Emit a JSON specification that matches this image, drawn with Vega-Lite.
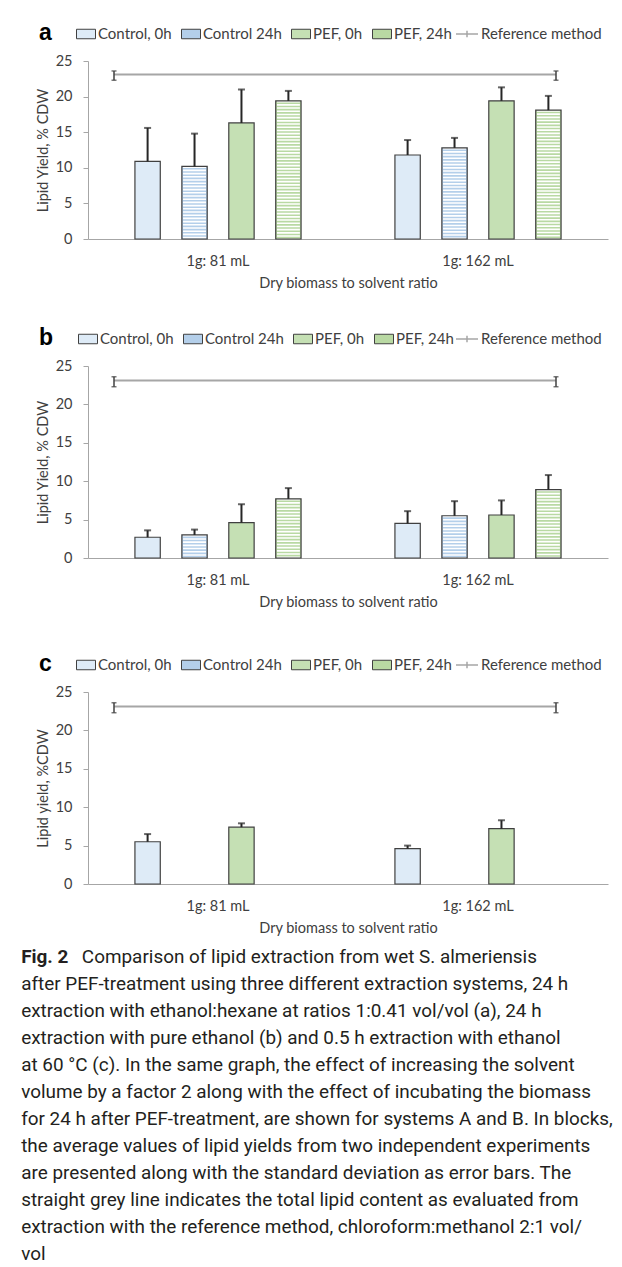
{
  "$schema": "https://vega.github.io/schema/vega-lite/v6.json",
  "padding": {"top": 22, "left": 21, "right": 4, "bottom": 2},
  "background": "white",
  "title": {
    "text": "Fig. 2",
    "subtitle": [
      "\u2800\u2800\u2800\u2800 Comparison of lipid extraction from wet S. almeriensis",
      "after PEF-treatment using three different extraction systems, 24 h",
      "extraction with ethanol:hexane at ratios 1:0.41 vol/vol (a), 24 h",
      "extraction with pure ethanol (b) and 0.5 h extraction with ethanol",
      "at 60 °C (c). In the same graph, the effect of increasing the solvent",
      "volume by a factor 2 along with the effect of incubating the biomass",
      "for 24 h after PEF-treatment, are shown for systems A and B. In blocks,",
      "the average values of lipid yields from two independent experiments",
      "are presented along with the standard deviation as error bars. The",
      "straight grey line indicates the total lipid content as evaluated from",
      "extraction with the reference method, chloroform:methanol 2:1 vol/",
      "vol"
    ],
    "orient": "bottom",
    "anchor": "start",
    "frame": "bounds",
    "font": "Roboto",
    "fontSize": 18.9,
    "fontWeight": "bold",
    "color": "#231f20",
    "subtitleFont": "Roboto",
    "subtitleFontSize": 18.9,
    "subtitleColor": "#231f20",
    "subtitleLineHeight": 27,
    "subtitlePadding": -18.9,
    "offset": 13,
    "dx": -14
  },
  "datasets": {
    "bars": [
      {"panel": "a", "ratio": "1g: 81 mL", "series": "Control, 0h", "yield": 10.9, "upper": 15.6},
      {"panel": "a", "ratio": "1g: 81 mL", "series": "Control 24h", "yield": 10.2, "upper": 14.8},
      {"panel": "a", "ratio": "1g: 81 mL", "series": "PEF, 0h", "yield": 16.3, "upper": 21.0},
      {"panel": "a", "ratio": "1g: 81 mL", "series": "PEF, 24h", "yield": 19.4, "upper": 20.8},
      {"panel": "a", "ratio": "1g: 162 mL", "series": "Control, 0h", "yield": 11.8, "upper": 13.9},
      {"panel": "a", "ratio": "1g: 162 mL", "series": "Control 24h", "yield": 12.8, "upper": 14.2},
      {"panel": "a", "ratio": "1g: 162 mL", "series": "PEF, 0h", "yield": 19.4, "upper": 21.3},
      {"panel": "a", "ratio": "1g: 162 mL", "series": "PEF, 24h", "yield": 18.1, "upper": 20.1},
      {"panel": "b", "ratio": "1g: 81 mL", "series": "Control, 0h", "yield": 2.7, "upper": 3.6},
      {"panel": "b", "ratio": "1g: 81 mL", "series": "Control 24h", "yield": 3.0, "upper": 3.7},
      {"panel": "b", "ratio": "1g: 81 mL", "series": "PEF, 0h", "yield": 4.6, "upper": 7.0},
      {"panel": "b", "ratio": "1g: 81 mL", "series": "PEF, 24h", "yield": 7.7, "upper": 9.1},
      {"panel": "b", "ratio": "1g: 162 mL", "series": "Control, 0h", "yield": 4.5, "upper": 6.1},
      {"panel": "b", "ratio": "1g: 162 mL", "series": "Control 24h", "yield": 5.5, "upper": 7.4},
      {"panel": "b", "ratio": "1g: 162 mL", "series": "PEF, 0h", "yield": 5.6, "upper": 7.5},
      {"panel": "b", "ratio": "1g: 162 mL", "series": "PEF, 24h", "yield": 8.9, "upper": 10.8},
      {"panel": "c", "ratio": "1g: 81 mL", "series": "Control, 0h", "yield": 5.5, "upper": 6.5},
      {"panel": "c", "ratio": "1g: 81 mL", "series": "PEF, 0h", "yield": 7.4, "upper": 7.9},
      {"panel": "c", "ratio": "1g: 162 mL", "series": "Control, 0h", "yield": 4.6, "upper": 5.0},
      {"panel": "c", "ratio": "1g: 162 mL", "series": "PEF, 0h", "yield": 7.2, "upper": 8.3}
    ],
    "ref": [
      {"panel": "a", "pos": 0.1, "series": "Reference method", "ref": 23.1, "lo": 22.3, "hi": 23.6},
      {"panel": "a", "pos": 1.8, "series": "Reference method", "ref": 23.1, "lo": 22.3, "hi": 23.6},
      {"panel": "b", "pos": 0.1, "series": "Reference method", "ref": 23.1, "lo": 22.3, "hi": 23.6},
      {"panel": "b", "pos": 1.8, "series": "Reference method", "ref": 23.1, "lo": 22.3, "hi": 23.6},
      {"panel": "c", "pos": 0.1, "series": "Reference method", "ref": 23.1, "lo": 22.3, "hi": 23.6},
      {"panel": "c", "pos": 1.8, "series": "Reference method", "ref": 23.1, "lo": 22.3, "hi": 23.6}
    ]
  },
  "spacing": 37,
  "vconcat": [
    {
      "width": 520,
      "height": 178,
      "resolve": {"scale": {"x": "independent"}},
      "layer": [
        {
          "data": {"name": "bars"},
          "transform": [{"filter": "datum.panel === 'a'"}],
          "encoding": {
            "x": {"field": "ratio", "type": "nominal", "sort": ["1g: 81 mL", "1g: 162 mL"], "scale": {"paddingInner": 0, "paddingOuter": 0},
                  "axis": {"title": "Dry biomass to solvent ratio", "labelAngle": 0, "ticks": false, "labelPadding": 15, "titlePadding": 9}},
            "xOffset": {"field": "series", "type": "nominal", "scale": {"domain": ["Control, 0h", "Control 24h", "PEF, 0h", "PEF, 24h"], "paddingInner": 0.46, "paddingOuter": 1.16}},
            "y": {"field": "yield", "type": "quantitative", "scale": {"domain": [0, 25], "nice": false}, "title": "Lipid Yield, % CDW",
                  "axis": {"values": [0, 5, 10, 15, 20, 25], "tickSize": 5, "labelPadding": 11, "titlePadding": 5, "domain": true, "ticks": true, "labelOverlap": false}}
          },
          "layer": [
            {"mark": {"type": "bar", "strokeWidth": 0},
             "encoding": {"fill": {"field": "series", "type": "nominal",
               "scale": {"domain": ["Control, 0h", "Control 24h", "PEF, 0h", "PEF, 24h"], "range": ["#deebf7", "#b4cfea", "#c5e0b4", "#b9d9a3"]},
               "legend": {"orient": "none", "legendX": -49, "legendY": -37, "direction": "horizontal", "title": "a", "titleOrient": "left",
                          "titleFont": "Liberation Sans", "titleFontSize": 23, "titleFontWeight": "bold", "titleColor": "#000000", "titlePadding": 24,
                          "symbolType": "M-1,-0.5H1V0.5H-1Z", "symbolSize": 361, "symbolStrokeColor": "#404040", "symbolStrokeWidth": 1,
                          "labelOffset": 2, "columnPadding": 7}}}},
            {"transform": [{"filter": "datum.series === 'Control 24h' || datum.series === 'PEF, 24h'"}],
             "mark": {"type": "rule", "color": "white", "strokeWidth": 23, "strokeDash": [1.6, 1.6], "strokeCap": "butt"},
             "encoding": {"y2": {"datum": 0}}},
            {"mark": {"type": "bar", "fill": null, "fillOpacity": 0, "stroke": "#404040", "strokeWidth": 1.2}},
            {"mark": {"type": "rule", "color": "#262626", "strokeWidth": 2}, "encoding": {"y2": {"field": "upper"}}},
            {"mark": {"type": "tick", "orient": "horizontal", "color": "#262626", "thickness": 2, "size": 7},
             "encoding": {"y": {"field": "upper", "type": "quantitative", "scale": {"domain": [0, 25], "nice": false}, "title": "Lipid Yield, % CDW",
               "axis": {"values": [0, 5, 10, 15, 20, 25], "tickSize": 5, "labelPadding": 11, "titlePadding": 5, "domain": true, "ticks": true, "labelOverlap": false}}}}
          ]
        },
        {
          "data": {"name": "ref"},
          "transform": [{"filter": "datum.panel === 'a'"}],
          "encoding": {
            "x": {"field": "pos", "type": "quantitative", "scale": {"domain": [0, 2], "nice": false, "zero": false}, "axis": null}
          },
          "layer": [
            {"data": {"values": [{}]}, "mark": {"type": "rule", "color": "#d0d0d0", "strokeWidth": 1},
             "encoding": {"x": {"datum": 1, "type": "quantitative", "axis": null}}},
            {"mark": {"type": "line", "strokeWidth": 2},
             "encoding": {"y": {"field": "ref", "type": "quantitative", "scale": {"domain": [0, 25], "nice": false}, "title": "Lipid Yield, % CDW",
               "axis": {"values": [0, 5, 10, 15, 20, 25], "tickSize": 5, "labelPadding": 11, "titlePadding": 5, "domain": true, "ticks": true, "labelOverlap": false}},
               "stroke": {"field": "series", "type": "nominal", "scale": {"range": ["#a6a6a6"]},
                 "legend": {"orient": "none", "legendX": 367, "legendY": -39, "title": null, "symbolType": "M-1,0H1M0,-0.3V0.3", "symbolSize": 484,
                            "symbolStrokeWidth": 1.5, "symbolFillColor": "transparent", "labelOffset": 2}}}},
            {"mark": {"type": "rule", "color": "#404040", "strokeWidth": 1.5},
             "encoding": {"y": {"field": "lo", "type": "quantitative", "scale": {"domain": [0, 25], "nice": false}, "title": "Lipid Yield, % CDW",
               "axis": {"values": [0, 5, 10, 15, 20, 25], "tickSize": 5, "labelPadding": 11, "titlePadding": 5, "domain": true, "ticks": true, "labelOverlap": false}}, "y2": {"field": "hi"}}},
            {"mark": {"type": "tick", "orient": "horizontal", "color": "#404040", "thickness": 1.5, "size": 5},
             "encoding": {"y": {"field": "hi", "type": "quantitative", "scale": {"domain": [0, 25], "nice": false}, "title": "Lipid Yield, % CDW",
               "axis": {"values": [0, 5, 10, 15, 20, 25], "tickSize": 5, "labelPadding": 11, "titlePadding": 5, "domain": true, "ticks": true, "labelOverlap": false}}}},
            {"mark": {"type": "tick", "orient": "horizontal", "color": "#404040", "thickness": 1.5, "size": 5},
             "encoding": {"y": {"field": "lo", "type": "quantitative", "scale": {"domain": [0, 25], "nice": false}, "title": "Lipid Yield, % CDW",
               "axis": {"values": [0, 5, 10, 15, 20, 25], "tickSize": 5, "labelPadding": 11, "titlePadding": 5, "domain": true, "ticks": true, "labelOverlap": false}}}}
          ]
        }
      ]
    },
    {
      "width": 520,
      "height": 192,
      "resolve": {"scale": {"x": "independent"}},
      "layer": [
        {
          "data": {"name": "bars"},
          "transform": [{"filter": "datum.panel === 'b'"}],
          "encoding": {
            "x": {"field": "ratio", "type": "nominal", "sort": ["1g: 81 mL", "1g: 162 mL"], "scale": {"paddingInner": 0, "paddingOuter": 0},
                  "axis": {"title": "Dry biomass to solvent ratio", "labelAngle": 0, "ticks": false, "labelPadding": 15, "titlePadding": 9}},
            "xOffset": {"field": "series", "type": "nominal", "scale": {"domain": ["Control, 0h", "Control 24h", "PEF, 0h", "PEF, 24h"], "paddingInner": 0.46, "paddingOuter": 1.16}},
            "y": {"field": "yield", "type": "quantitative", "scale": {"domain": [0, 25], "nice": false}, "title": "Lipid Yield, % CDW",
                  "axis": {"values": [0, 5, 10, 15, 20, 25], "tickSize": 5, "labelPadding": 11, "titlePadding": 5, "domain": true, "ticks": true, "labelOverlap": false}}
          },
          "layer": [
            {"mark": {"type": "bar", "strokeWidth": 0},
             "encoding": {"fill": {"field": "series", "type": "nominal",
               "scale": {"domain": ["Control, 0h", "Control 24h", "PEF, 0h", "PEF, 24h"], "range": ["#deebf7", "#b4cfea", "#c5e0b4", "#b9d9a3"]},
               "legend": {"orient": "none", "legendX": -49, "legendY": -37, "direction": "horizontal", "title": "b", "titleOrient": "left",
                          "titleFont": "Liberation Sans", "titleFontSize": 23, "titleFontWeight": "bold", "titleColor": "#000000", "titlePadding": 24,
                          "symbolType": "M-1,-0.5H1V0.5H-1Z", "symbolSize": 361, "symbolStrokeColor": "#404040", "symbolStrokeWidth": 1,
                          "labelOffset": 2, "columnPadding": 7}}}},
            {"transform": [{"filter": "datum.series === 'Control 24h' || datum.series === 'PEF, 24h'"}],
             "mark": {"type": "rule", "color": "white", "strokeWidth": 23, "strokeDash": [1.6, 1.6], "strokeCap": "butt"},
             "encoding": {"y2": {"datum": 0}}},
            {"mark": {"type": "bar", "fill": null, "fillOpacity": 0, "stroke": "#404040", "strokeWidth": 1.2}},
            {"mark": {"type": "rule", "color": "#262626", "strokeWidth": 2}, "encoding": {"y2": {"field": "upper"}}},
            {"mark": {"type": "tick", "orient": "horizontal", "color": "#262626", "thickness": 2, "size": 7},
             "encoding": {"y": {"field": "upper", "type": "quantitative", "scale": {"domain": [0, 25], "nice": false}, "title": "Lipid Yield, % CDW",
               "axis": {"values": [0, 5, 10, 15, 20, 25], "tickSize": 5, "labelPadding": 11, "titlePadding": 5, "domain": true, "ticks": true, "labelOverlap": false}}}}
          ]
        },
        {
          "data": {"name": "ref"},
          "transform": [{"filter": "datum.panel === 'b'"}],
          "encoding": {
            "x": {"field": "pos", "type": "quantitative", "scale": {"domain": [0, 2], "nice": false, "zero": false}, "axis": null}
          },
          "layer": [
            {"data": {"values": [{}]}, "mark": {"type": "rule", "color": "#d0d0d0", "strokeWidth": 1},
             "encoding": {"x": {"datum": 1, "type": "quantitative", "axis": null}}},
            {"mark": {"type": "line", "strokeWidth": 2},
             "encoding": {"y": {"field": "ref", "type": "quantitative", "scale": {"domain": [0, 25], "nice": false}, "title": "Lipid Yield, % CDW",
               "axis": {"values": [0, 5, 10, 15, 20, 25], "tickSize": 5, "labelPadding": 11, "titlePadding": 5, "domain": true, "ticks": true, "labelOverlap": false}},
               "stroke": {"field": "series", "type": "nominal", "scale": {"range": ["#a6a6a6"]},
                 "legend": {"orient": "none", "legendX": 367, "legendY": -39, "title": null, "symbolType": "M-1,0H1M0,-0.3V0.3", "symbolSize": 484,
                            "symbolStrokeWidth": 1.5, "symbolFillColor": "transparent", "labelOffset": 2}}}},
            {"mark": {"type": "rule", "color": "#404040", "strokeWidth": 1.5},
             "encoding": {"y": {"field": "lo", "type": "quantitative", "scale": {"domain": [0, 25], "nice": false}, "title": "Lipid Yield, % CDW",
               "axis": {"values": [0, 5, 10, 15, 20, 25], "tickSize": 5, "labelPadding": 11, "titlePadding": 5, "domain": true, "ticks": true, "labelOverlap": false}}, "y2": {"field": "hi"}}},
            {"mark": {"type": "tick", "orient": "horizontal", "color": "#404040", "thickness": 1.5, "size": 5},
             "encoding": {"y": {"field": "hi", "type": "quantitative", "scale": {"domain": [0, 25], "nice": false}, "title": "Lipid Yield, % CDW",
               "axis": {"values": [0, 5, 10, 15, 20, 25], "tickSize": 5, "labelPadding": 11, "titlePadding": 5, "domain": true, "ticks": true, "labelOverlap": false}}}},
            {"mark": {"type": "tick", "orient": "horizontal", "color": "#404040", "thickness": 1.5, "size": 5},
             "encoding": {"y": {"field": "lo", "type": "quantitative", "scale": {"domain": [0, 25], "nice": false}, "title": "Lipid Yield, % CDW",
               "axis": {"values": [0, 5, 10, 15, 20, 25], "tickSize": 5, "labelPadding": 11, "titlePadding": 5, "domain": true, "ticks": true, "labelOverlap": false}}}}
          ]
        }
      ]
    },
    {
      "width": 520,
      "height": 192,
      "resolve": {"scale": {"x": "independent"}},
      "layer": [
        {
          "data": {"name": "bars"},
          "transform": [{"filter": "datum.panel === 'c'"}],
          "encoding": {
            "x": {"field": "ratio", "type": "nominal", "sort": ["1g: 81 mL", "1g: 162 mL"], "scale": {"paddingInner": 0, "paddingOuter": 0},
                  "axis": {"title": "Dry biomass to solvent ratio", "labelAngle": 0, "ticks": false, "labelPadding": 15, "titlePadding": 9}},
            "xOffset": {"field": "series", "type": "nominal", "scale": {"domain": ["Control, 0h", "Control 24h", "PEF, 0h", "PEF, 24h"], "paddingInner": 0.46, "paddingOuter": 1.16}},
            "y": {"field": "yield", "type": "quantitative", "scale": {"domain": [0, 25], "nice": false}, "title": "Lipid yield, %CDW",
                  "axis": {"values": [0, 5, 10, 15, 20, 25], "tickSize": 5, "labelPadding": 11, "titlePadding": 5, "domain": true, "ticks": true, "labelOverlap": false}}
          },
          "layer": [
            {"mark": {"type": "bar", "strokeWidth": 0},
             "encoding": {"fill": {"field": "series", "type": "nominal",
               "scale": {"domain": ["Control, 0h", "Control 24h", "PEF, 0h", "PEF, 24h"], "range": ["#deebf7", "#b4cfea", "#c5e0b4", "#b9d9a3"]},
               "legend": {"orient": "none", "legendX": -49, "legendY": -37, "direction": "horizontal", "title": "c", "titleOrient": "left",
                          "titleFont": "Liberation Sans", "titleFontSize": 23, "titleFontWeight": "bold", "titleColor": "#000000", "titlePadding": 24,
                          "symbolType": "M-1,-0.5H1V0.5H-1Z", "symbolSize": 361, "symbolStrokeColor": "#404040", "symbolStrokeWidth": 1,
                          "labelOffset": 2, "columnPadding": 7}}}},
            {"transform": [{"filter": "datum.series === 'Control 24h' || datum.series === 'PEF, 24h'"}],
             "mark": {"type": "rule", "color": "white", "strokeWidth": 23, "strokeDash": [1.6, 1.6], "strokeCap": "butt"},
             "encoding": {"y2": {"datum": 0}}},
            {"mark": {"type": "bar", "fill": null, "fillOpacity": 0, "stroke": "#404040", "strokeWidth": 1.2}},
            {"mark": {"type": "rule", "color": "#262626", "strokeWidth": 2}, "encoding": {"y2": {"field": "upper"}}},
            {"mark": {"type": "tick", "orient": "horizontal", "color": "#262626", "thickness": 2, "size": 7},
             "encoding": {"y": {"field": "upper", "type": "quantitative", "scale": {"domain": [0, 25], "nice": false}, "title": "Lipid yield, %CDW",
               "axis": {"values": [0, 5, 10, 15, 20, 25], "tickSize": 5, "labelPadding": 11, "titlePadding": 5, "domain": true, "ticks": true, "labelOverlap": false}}}}
          ]
        },
        {
          "data": {"name": "ref"},
          "transform": [{"filter": "datum.panel === 'c'"}],
          "encoding": {
            "x": {"field": "pos", "type": "quantitative", "scale": {"domain": [0, 2], "nice": false, "zero": false}, "axis": null}
          },
          "layer": [
            {"data": {"values": [{}]}, "mark": {"type": "rule", "color": "#d0d0d0", "strokeWidth": 1},
             "encoding": {"x": {"datum": 1, "type": "quantitative", "axis": null}}},
            {"mark": {"type": "line", "strokeWidth": 2},
             "encoding": {"y": {"field": "ref", "type": "quantitative", "scale": {"domain": [0, 25], "nice": false}, "title": "Lipid yield, %CDW",
               "axis": {"values": [0, 5, 10, 15, 20, 25], "tickSize": 5, "labelPadding": 11, "titlePadding": 5, "domain": true, "ticks": true, "labelOverlap": false}},
               "stroke": {"field": "series", "type": "nominal", "scale": {"range": ["#a6a6a6"]},
                 "legend": {"orient": "none", "legendX": 360, "legendY": -46, "padding": 7, "title": null, "symbolType": "M-1,0H1M0,-0.3V0.3", "symbolSize": 484,
                            "symbolStrokeWidth": 1.5, "symbolFillColor": "transparent", "labelOffset": 2}}}},
            {"mark": {"type": "rule", "color": "#404040", "strokeWidth": 1.5},
             "encoding": {"y": {"field": "lo", "type": "quantitative", "scale": {"domain": [0, 25], "nice": false}, "title": "Lipid yield, %CDW",
               "axis": {"values": [0, 5, 10, 15, 20, 25], "tickSize": 5, "labelPadding": 11, "titlePadding": 5, "domain": true, "ticks": true, "labelOverlap": false}}, "y2": {"field": "hi"}}},
            {"mark": {"type": "tick", "orient": "horizontal", "color": "#404040", "thickness": 1.5, "size": 5},
             "encoding": {"y": {"field": "hi", "type": "quantitative", "scale": {"domain": [0, 25], "nice": false}, "title": "Lipid yield, %CDW",
               "axis": {"values": [0, 5, 10, 15, 20, 25], "tickSize": 5, "labelPadding": 11, "titlePadding": 5, "domain": true, "ticks": true, "labelOverlap": false}}}},
            {"mark": {"type": "tick", "orient": "horizontal", "color": "#404040", "thickness": 1.5, "size": 5},
             "encoding": {"y": {"field": "lo", "type": "quantitative", "scale": {"domain": [0, 25], "nice": false}, "title": "Lipid yield, %CDW",
               "axis": {"values": [0, 5, 10, 15, 20, 25], "tickSize": 5, "labelPadding": 11, "titlePadding": 5, "domain": true, "ticks": true, "labelOverlap": false}}}}
          ]
        }
      ]
    }
  ],
  "resolve": {
    "scale": {"fill": "independent", "stroke": "independent"},
    "legend": {"fill": "independent", "stroke": "independent"}
  },
  "config": {
    "view": {"stroke": null},
    "font": "Lato",
    "axis": {"labelFont": "Lato", "titleFont": "Lato", "labelFontSize": 14.5, "titleFontSize": 14.5, "labelColor": "#404040", "titleColor": "#404040",
             "titleFontWeight": "normal", "domainColor": "#a6a6a6", "tickColor": "#a6a6a6", "grid": false},
    "legend": {"labelFont": "Lato", "labelFontSize": 15, "labelColor": "#404040"}
  }
}
